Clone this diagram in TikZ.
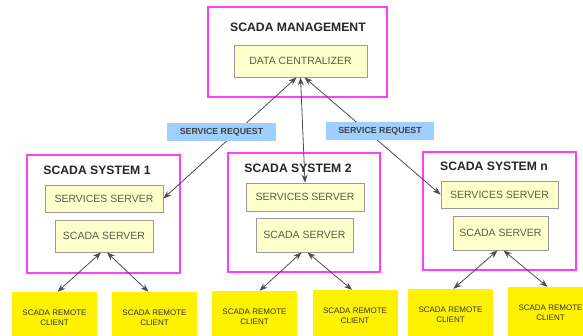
\documentclass[tikz,border=0pt]{standalone}
\usepackage{fontspec}
\setmainfont{Liberation Sans}
\usetikzlibrary{arrows.meta}
\definecolor{mag}{HTML}{FF3CFF}
\definecolor{paleyel}{HTML}{FFFFCC}
\definecolor{reqblue}{HTML}{9FCFFF}
\definecolor{innertext}{HTML}{5C5C48}
\begin{document}
\begin{tikzpicture}[x=1pt,y=-1pt,
  sysbox/.style={draw=mag,line width=1.8pt,rectangle,inner sep=0pt},
  title/.style={font=\bfseries\fontsize{12.2}{14}\selectfont,text=black!85,inner sep=0pt},
  inbox/.style={draw=gray!80,line width=0.9pt,fill=paleyel,inner sep=0pt,
    text=innertext,font=\fontsize{10.5}{12}\selectfont},
  client/.style={fill=yellow,inner sep=0pt,minimum width=85pt,minimum height=52pt,
    align=center,text=black!80,font=\fontsize{8}{10}\selectfont},
  req/.style={fill=reqblue,inner sep=0pt,minimum width=109pt,minimum height=18pt,
    text=black!75,font=\bfseries\fontsize{8.8}{10}\selectfont},
  link/.style={draw=gray!60!black,line width=0.8pt,
    {Stealth[length=8pt,width=6pt]}-{Stealth[length=8pt,width=6pt]}}]
\clip (0,0) rectangle (583,336);
\useasboundingbox (0,0) rectangle (583,336);

% management
\node[sysbox,minimum width=179pt,minimum height=90pt] (mgmt) at (297.5,52) {};
\node[title] (mgmtT) at (298,27) {SCADA MANAGEMENT};
\node[inbox,minimum width=133pt,minimum height=32pt] (dc) at (300.5,61) {DATA CENTRALIZER};

% systems
\node[sysbox,minimum width=153pt,minimum height=118pt] (sys1) at (103.5,214) {};
\node[sysbox,minimum width=152pt,minimum height=119pt] (sys2) at (304,212.5) {};
\node[sysbox,minimum width=153pt,minimum height=118pt] (sysn) at (499.5,211) {};
\node[title] (t1) at (97,170) {SCADA SYSTEM 1};
\node[title] (t2) at (298,168) {SCADA SYSTEM 2};
\node[title] (tn) at (494,166) {SCADA SYSTEM n};

\node[inbox,minimum width=118pt,minimum height=27pt] (ss1) at (104,198.5) {SERVICES SERVER};
\node[inbox,minimum width=118pt,minimum height=28pt] (ss2) at (305,197) {SERVICES SERVER};
\node[inbox,minimum width=117pt,minimum height=27pt] (ssn) at (499.5,194.5) {SERVICES SERVER};
\node[inbox,minimum width=98pt,minimum height=32pt] (sc1) at (104,236) {SCADA SERVER};
\node[inbox,minimum width=97pt,minimum height=34pt] (sc2) at (304.5,235) {SCADA SERVER};
\node[inbox,minimum width=95pt,minimum height=34pt] (scn) at (500.5,233) {SCADA SERVER};

% clients
\node[client] (c1) at (54.5,318) {SCADA REMOTE\\CLIENT};
\node[client] (c2) at (154.5,318) {SCADA REMOTE\\CLIENT};
\node[client] (c3) at (254.5,317) {SCADA REMOTE\\CLIENT};
\node[client] (c4) at (355,316) {SCADA REMOTE\\CLIENT};
\node[client] (c5) at (450.5,315) {SCADA REMOTE\\CLIENT};
\node[client] (c6) at (550.5,313) {SCADA REMOTE\\CLIENT};

% links
\draw[link] ([xshift=-4pt]dc.south) -- (ss1.east);
\draw[link] (dc.south) -- (ss2.north);
\draw[link] ([xshift=4pt]dc.south) -- (ssn.west);

\draw[link] ([xshift=-3pt]sc1.south) -- ([xshift=3pt]c1.north);
\draw[link] ([xshift=3pt]sc1.south) -- ([xshift=-6pt]c2.north);
\draw[link] ([xshift=-3pt]sc2.south) -- ([xshift=5pt]c3.north);
\draw[link] ([xshift=3pt]sc2.south) -- ([xshift=-3pt]c4.north);
\draw[link] ([xshift=-3pt]scn.south) -- ([xshift=3pt]c5.north);
\draw[link] ([xshift=3pt]scn.south) -- ([xshift=-3pt]c6.north);

% request labels
\node[req] (r1) at (221.5,132) {SERVICE REQUEST};
\node[req,minimum width=108pt] (r2) at (380,131) {SERVICE REQUEST};
\end{tikzpicture}
\end{document}
